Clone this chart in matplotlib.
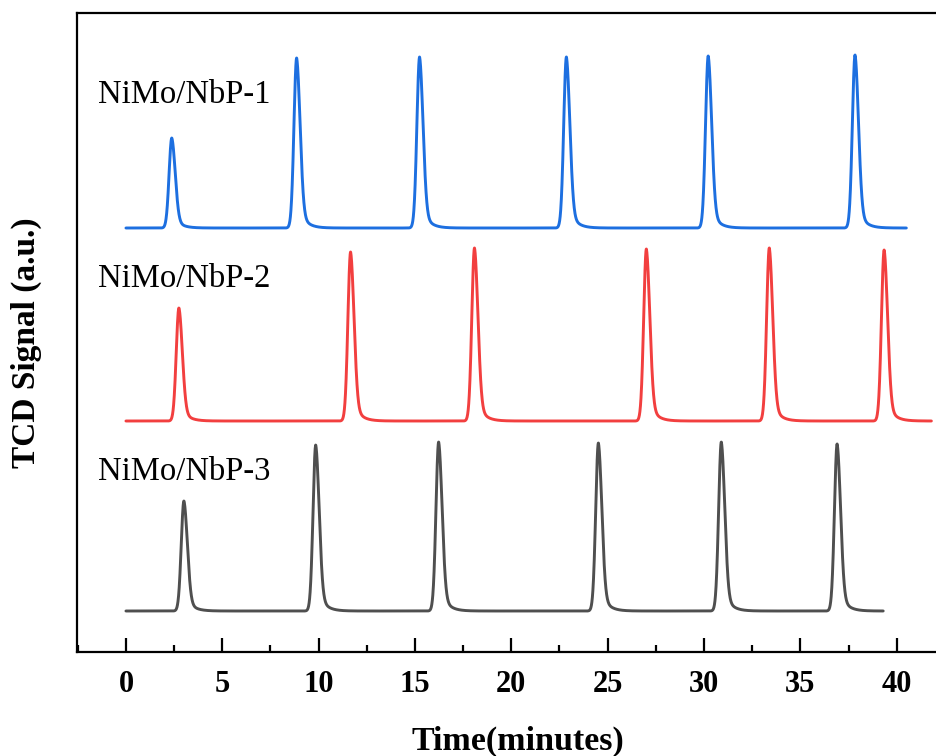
import numpy as np
import matplotlib
matplotlib.use("Agg")
import matplotlib.pyplot as plt
from matplotlib.ticker import MultipleLocator

# ---- data ----
series_names = ["NiMo/NbP-1", "NiMo/NbP-2", "NiMo/NbP-3"]
# peak retention times (minutes)
peaks_t_1 = [2.38, 8.86, 15.24, 22.86, 30.22, 37.84]
peaks_t_2 = [2.75, 11.66, 18.09, 27.01, 33.39, 39.35]
peaks_t_3 = [3.01, 9.85, 16.23, 24.52, 30.90, 36.91]
# peak heights (a.u.)
peaks_h_1 = [90, 170, 171, 171, 172, 173]
peaks_h_2 = [113, 169, 173, 172, 173, 171]
peaks_h_3 = [110, 166, 169, 168, 169, 167]
# recording end time (minutes)
t_end = [40.5, 41.8, 39.3]

# ---- styles / layout ----
offsets = [424, 231, 41]
colors = ["#1d6fe0", "#f23f3f", "#4f4f4f"]
serif = ["Liberation Serif", "DejaVu Serif"]


def trace(t, centers, heights):
    y = np.zeros_like(t)
    for c, h in zip(centers, heights):
        dt = t - c
        left = np.exp(-dt ** 2 / (2 * 0.14 ** 2))
        right = 0.83 * np.exp(-dt ** 2 / (2 * 0.18 ** 2)) + 0.17 * np.exp(-np.clip(dt, 0, None) / 0.34)
        y += h * np.where(dt < 0, left, right)
    return y


fig = plt.figure(figsize=(9.36, 7.56), dpi=100)
ax = fig.add_axes([77 / 936, 104 / 756, 1 - 77 / 936, (652 - 13) / 756])

all_t = [peaks_t_1, peaks_t_2, peaks_t_3]
all_h = [peaks_h_1, peaks_h_2, peaks_h_3]
label_y = [549, 365, 172]
for name, pt, ph, te, off, col, ly in zip(series_names, all_t, all_h, t_end, offsets, colors, label_y):
    t = np.linspace(0, te, 6000)
    ax.plot(t, off + trace(t, pt, ph), color=col, lw=2.1, solid_capstyle="round")
    ax.text(-1.45, ly, name, fontsize=23.5, family=serif, va="baseline", ha="left")

ax.set_xlim(-2.54, 42.04)
ax.set_ylim(0, 639)
ax.xaxis.set_major_locator(MultipleLocator(5))
ax.xaxis.set_minor_locator(MultipleLocator(2.5))
ax.tick_params(axis="x", which="major", direction="in", length=10, width=1.6, pad=13)
ax.tick_params(axis="x", which="minor", direction="in", length=5, width=1.6)
ax.set_yticks([])
for lab in ax.get_xticklabels():
    lab.set_fontfamily(serif)
    lab.set_fontweight("bold")
    lab.set_fontsize(22)
for s in ["left", "bottom", "top"]:
    ax.spines[s].set_linewidth(1.6)
ax.spines["right"].set_visible(False)

fig.text(518 / 936, 6 / 756, "Time(minutes)", family=serif, fontweight="bold",
         fontsize=24.5, ha="center", va="baseline")
fig.text(42 / 936, (756 - 343) / 756, "TCD Signal (a.u.)", family=serif, fontweight="bold",
         fontsize=24, ha="right", va="center", rotation=90)

fig.savefig("out.png", dpi=100)
